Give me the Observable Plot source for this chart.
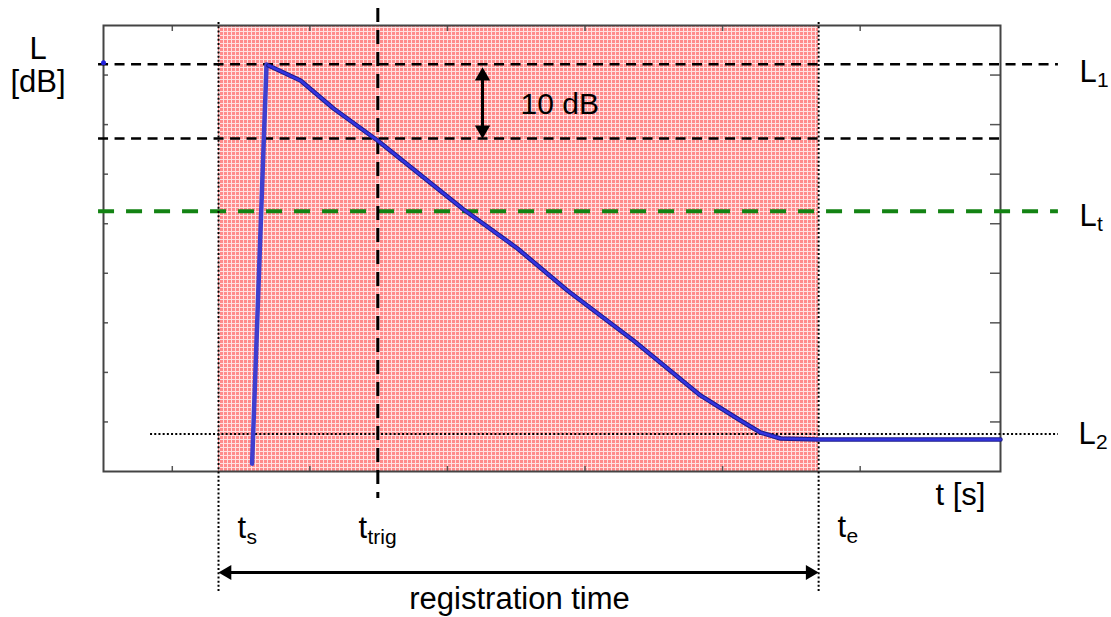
<!DOCTYPE html>
<html><head><meta charset="utf-8">
<script src="https://cdn.jsdelivr.net/npm/d3@7"></script>
<script src="https://cdn.jsdelivr.net/npm/@observablehq/plot@0.6"></script>
<style>html,body{margin:0;padding:0;background:#fff;overflow:hidden;} svg{display:block}</style>
</head><body><div id="chart"></div>
<script>
// ---- data (t in s units of the sketch, L in dB) ----
const riseT = [1.080, 1.185];
const riseL = [1.04, 54.75];
const decayT = [1.199, 1.432, 1.672, 1.992, 2.282, 2.617, 3.009, 3.372, 3.852, 4.339, 4.630, 4.775, 4.921, 5.197, 6.520];
const decayL = [54.62, 52.60, 48.83, 44.53, 40.23, 35.25, 30.00, 24.35, 17.62, 10.23, 6.86, 5.25, 4.44, 4.31, 4.31];
const startDot = [{t: 0, L: 55.0}];

const levelNames = ["L1", "L1-10", "Lt", "L2"];
const levelValues = [54.8, 44.8, 35.0, 5.05];
const levelFrom = [-0.036, -0.036, -0.036, 0.342];
const levelTo = [6.941, 6.549, 6.941, 6.941];

const timeNames = ["ts", "ttrig", "te"];
const timeValues = [0.836, 1.994, 5.198];
const timeTop = [60.4, 62.3, 60.4];
const timeBottom = [-16.4, -3.63, -16.4];

const xTicks = [0.5, 1.5, 2.5, 3.5, 4.5, 5.5];
const yTicks = [6.667, 13.333, 20, 26.667, 33.333, 40, 46.667, 53.333];

const xDomain = [0, 6.52];
const yDomain = [0, 60];

// annotation anchors (data coordinates)
const regArrowL = -13.59;
const dbArrowT = 2.755;
const subLabelsL = [
  {base: "L", sub: "1", t: 7.094, L: 52.4},
  {base: "L", sub: "t", t: 7.094, L: 33.0},
  {base: "L", sub: "2", t: 7.087, L: 3.68}
];
const subLabelsT = [
  {base: "t", sub: "s", t: 0.974, L: -8.88},
  {base: "t", sub: "trig", t: 1.853, L: -8.88},
  {base: "t", sub: "e", t: 5.335, L: -8.75}
];
const plainLabels = [
  {text: "L", t: -0.476, L: 55.56},
  {text: "[dB]", t: -0.476, L: 50.99},
  {text: "t [s]", t: 6.229, L: -4.57},
  {text: "registration time", t: 3.024, L: -18.5}
];
const dbLabel = [{text: "10 dB", t: 3.031, L: 48.03}];

// ---- tables ----
const rise = riseT.map((t, i) => ({t, L: riseL[i]}));
const decay = decayT.map((t, i) => ({t, L: decayL[i]}));
const levels = levelNames.map((n, i) => ({n, L: levelValues[i], t1: levelFrom[i], t2: levelTo[i]}));
const times = timeNames.map((n, i) => ({n, t: timeValues[i], L1: timeTop[i], L2: timeBottom[i]}));

const font = "'Liberation Sans', Arial, Helvetica, sans-serif";

const plot = Plot.plot({
  width: 1111,
  height: 617,
  marginLeft: 103,
  marginRight: 111,
  marginTop: 25,
  marginBottom: 146,
  style: {fontFamily: font, background: "#fff", overflow: "visible"},
  x: {domain: xDomain, axis: null},
  y: {domain: yDomain, axis: null},
  marks: [
    // registration window
    Plot.rect([{a: timeValues[0], b: timeValues[2]}], {x1: "a", x2: "b", y1: () => yDomain[0], y2: () => yDomain[1], fill: "url(#pinkgrid)"}),
    // ticks (inside)
    Plot.tickY(yTicks, {y: d => d, insetRight: 892, stroke: "#555", strokeWidth: 1.5}),
    Plot.tickY(yTicks, {y: d => d, insetLeft: 887, stroke: "#555", strokeWidth: 1.5}),
    Plot.tickX(xTicks, {x: d => d, insetTop: 441, stroke: "#555", strokeWidth: 1.5}),
    Plot.tickX(xTicks, {x: d => d, insetBottom: 440, stroke: "#555", strokeWidth: 1.5}),
    Plot.frame({stroke: "#444", strokeWidth: 2}),
    // level lines
    Plot.ruleY(levels.filter(d => d.n === "L1" || d.n === "L1-10"), {y: "L", x1: "t1", x2: "t2", stroke: "#000", strokeWidth: 2.5, strokeDasharray: "10,6.5"}),
    Plot.ruleY(levels.filter(d => d.n === "Lt"), {y: "L", x1: "t1", x2: "t2", stroke: "#138313", strokeWidth: 4, strokeDasharray: "16,12"}),
    Plot.ruleY(levels.filter(d => d.n === "L2"), {y: "L", x1: "t1", x2: "t2", stroke: "#000", strokeWidth: 2, strokeDasharray: "2,2.2"}),
    // time lines
    Plot.ruleX(times.filter(d => d.n !== "ttrig"), {x: "t", y1: "L1", y2: "L2", stroke: "#000", strokeWidth: 2, strokeDasharray: "2,2.2"}),
    Plot.ruleX(times.filter(d => d.n === "ttrig"), {x: "t", y1: "L1", y2: "L2", stroke: "#000", strokeWidth: 3, strokeDasharray: "14,8"}),
    // level curve
    Plot.line(rise, {x: "t", y: "L", stroke: "#3f3fcf", strokeWidth: 4.5}),
    Plot.line(decay, {x: "t", y: "L", stroke: "#1c1c8c", strokeWidth: 4.5}),
    Plot.line(decay, {x: "t", y: "L", stroke: "#3434e0", strokeWidth: 2.5}),
    Plot.dot(startDot, {x: "t", y: "L", r: 2.5, fill: "#2222dd"}),
    // 10 dB double arrow
    Plot.ruleX([dbArrowT], {x: d => d, y1: () => levelValues[0], y2: () => levelValues[1], stroke: "#000", strokeWidth: 3, insetTop: 12, insetBottom: 12}),
    Plot.dot([dbArrowT], {x: d => d, y: () => levelValues[0], symbol: "triangle", r: 5.7, fill: "#000", stroke: "none", dy: 12}),
    Plot.dot([dbArrowT], {x: d => d, y: () => levelValues[1], symbol: "triangle", r: 5.7, fill: "#000", stroke: "none", rotate: 180, dy: -8.5}),
    // registration time arrow
    Plot.ruleY([regArrowL], {y: d => d, x1: () => timeValues[0], x2: () => timeValues[2], stroke: "#000", strokeWidth: 3, insetLeft: 8, insetRight: 8}),
    Plot.dot([regArrowL], {y: d => d, x: () => timeValues[0], symbol: "triangle", r: 5.5, fill: "#000", stroke: "none", rotate: -90, dx: 8.5}),
    Plot.dot([regArrowL], {y: d => d, x: () => timeValues[2], symbol: "triangle", r: 5.5, fill: "#000", stroke: "none", rotate: 90, dx: -8.5}),
    // labels
    Plot.text(plainLabels, {x: "t", y: "L", text: "text", fontSize: 31, fill: "#000", textAnchor: "middle", lineAnchor: "bottom"}),
    Plot.text(dbLabel, {x: "t", y: "L", text: "text", fontSize: 30, fill: "#000", textAnchor: "start", lineAnchor: "bottom"}),
    Plot.text(subLabelsL, {x: "t", y: "L", text: "base", fontSize: 31, fill: "#000", textAnchor: "start", lineAnchor: "bottom"}),
    Plot.text(subLabelsL, {x: "t", y: "L", text: "sub", fontSize: 21, fill: "#000", textAnchor: "start", lineAnchor: "bottom", dx: 17.5, dy: 5}),
    Plot.text(subLabelsT, {x: "t", y: "L", text: "base", fontSize: 31, fill: "#000", textAnchor: "start", lineAnchor: "bottom"}),
    Plot.text(subLabelsT, {x: "t", y: "L", text: "sub", fontSize: 21, fill: "#000", textAnchor: "start", lineAnchor: "bottom", dx: 9, dy: 6})
  ]
});

const ns = "http://www.w3.org/2000/svg";
const defs = document.createElementNS(ns, "defs");
defs.innerHTML = '<pattern id="pinkgrid" width="4" height="4" patternUnits="userSpaceOnUse">' +
  '<rect width="4" height="4" fill="#ff8c8c"/>' +
  '<path d="M3.5 0V4M0 3.5H4" stroke="#ffe2e2" stroke-width="1"/></pattern>';
plot.insertBefore(defs, plot.firstChild);
document.getElementById("chart").appendChild(plot);
</script>
</body></html>
